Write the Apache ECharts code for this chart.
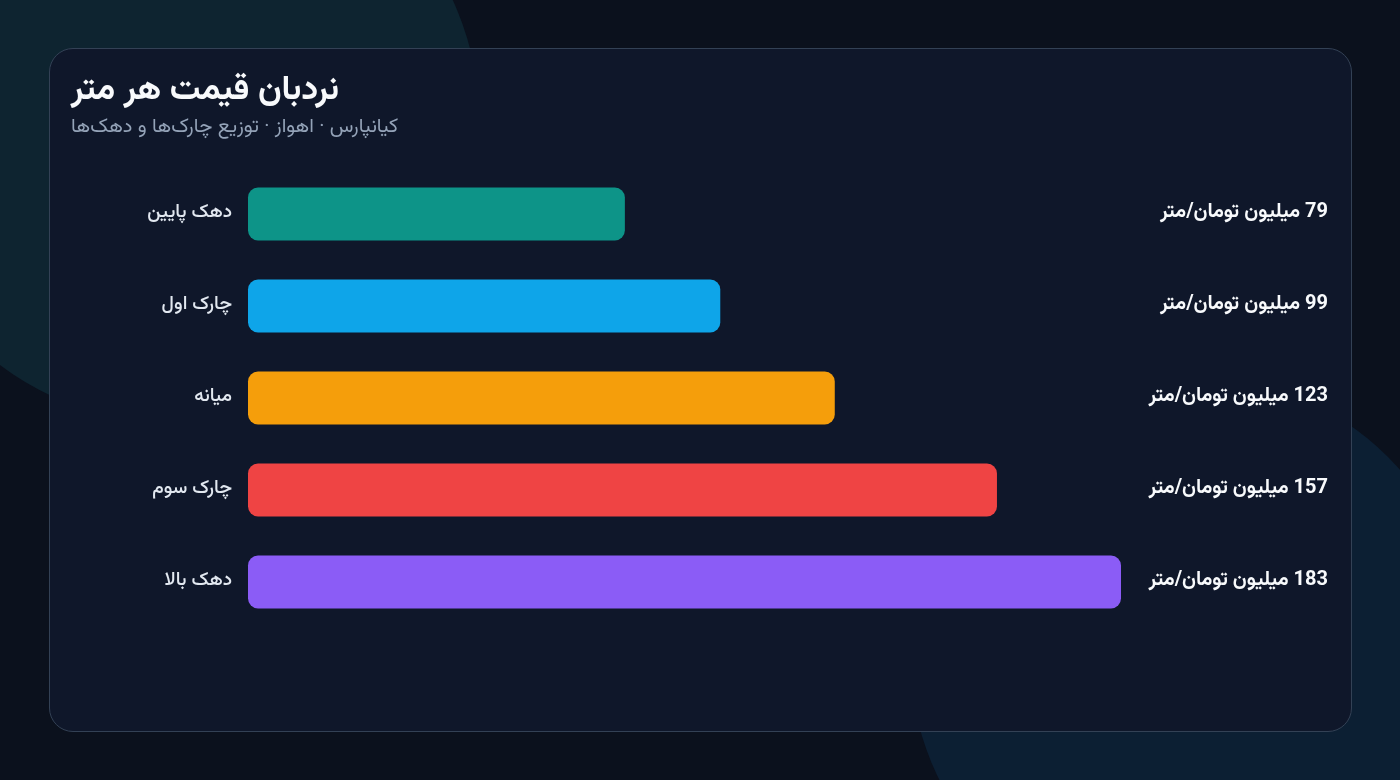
<!DOCTYPE html>
<html lang="fa">
<head>
<meta charset="utf-8">
<script src="https://cdn.jsdelivr.net/npm/echarts@6/dist/echarts.min.js"></script>
<style>
  html, body { margin: 0; padding: 0; width: 1400px; height: 780px; overflow: hidden; background: #0b111d; }
  .blob1 { position: absolute; left: -120px; top: -175px; width: 600px; height: 600px; border-radius: 50%; background: #0e2430; }
  .blob2 { position: absolute; left: 910px; top: 375px; width: 560px; height: 560px; border-radius: 50%; background: #0c1f33; }
  .card { position: absolute; left: 49px; top: 48px; width: 1301px; height: 682px; border-radius: 24px; background: #0f172a; border: 1.5px solid #334155; }
  #chart { position: absolute; left: 0; top: 0; width: 1400px; height: 780px; direction: rtl; }
</style>
</head>
<body>
<div class="blob1"></div>
<div class="blob2"></div>
<div class="card"></div>
<div id="chart"></div>
<script>
const titleText = 'نردبان قیمت هر متر';
const subtitleText = 'کیانپارس · اهواز · توزیع چارک‌ها و دهک‌ها';
const categories = ['دهک پایین', 'چارک اول', 'میانه', 'چارک سوم', 'دهک بالا'];
const values = [79, 99, 123, 157, 183];
const unitText = 'میلیون تومان/متر';
const palette = ['#0d9488', '#0ea5e9', '#f59e0b', '#ef4444', '#8b5cf6'];

const FONT = "Vazirmatn, Roboto, 'Noto Sans Arabic', 'Noto Naskh Arabic', 'DejaVu Sans', sans-serif";

const chart = echarts.init(document.getElementById('chart'), null, { renderer: 'canvas' });
chart.setOption({
  backgroundColor: 'transparent',
  animation: false,
  textStyle: { fontFamily: FONT },
  title: {
    text: titleText,
    subtext: subtitleText,
    left: 66,
    top: 72,
    itemGap: 8,
    textStyle: { fontSize: 34, fontWeight: 'bold', color: '#f8fafc', fontFamily: FONT },
    subtextStyle: { fontSize: 20, color: '#94a3b8', fontFamily: FONT }
  },
  grid: { left: 248, right: 279, top: 168, height: 460, containLabel: false },
  xAxis: {
    type: 'value', min: 0, max: 'dataMax',
    show: false
  },
  yAxis: [
    {
      type: 'category', data: categories, inverse: true,
      axisLine: { show: false }, axisTick: { show: false },
      axisLabel: { margin: 16, fontSize: 19, fontWeight: 500, color: '#e2e8f0', fontFamily: FONT }
    },
    {
      type: 'category', data: categories, inverse: true, position: 'right',
      axisLine: { show: false }, axisTick: { show: false },
      axisLabel: {
        margin: 207, align: 'right', fontSize: 20, fontWeight: 'bold', color: '#f8fafc', fontFamily: FONT,
        formatter: function (v, i) { return values[i] + ' ' + unitText; }
      }
    }
  ],
  series: [{
    type: 'bar',
    yAxisIndex: 0,
    barWidth: 53,
    data: values.map((v, i) => ({ value: v, itemStyle: { color: palette[i] } })),
    itemStyle: { borderRadius: 10 }
  }]
});
</script>
</body>
</html>
